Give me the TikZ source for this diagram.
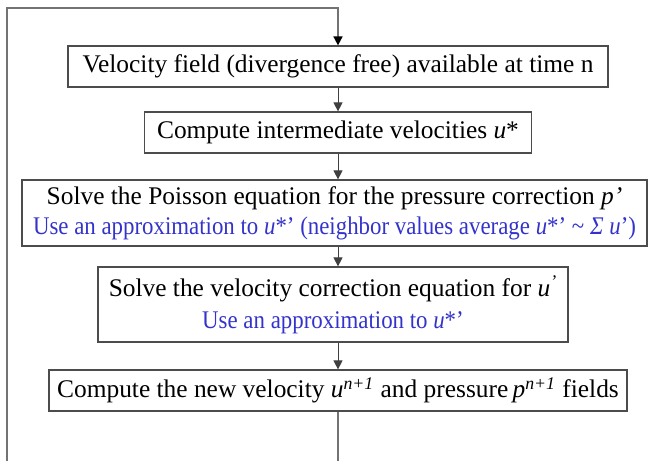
\documentclass[tikz,border=0pt]{standalone}
\usepackage{fontspec}
\setmainfont{Liberation Serif}
\newfontfamily\notefont[FakeStretch=0.9]{Liberation Serif}
\usetikzlibrary{arrows.meta}
\definecolor{noteblue}{RGB}{51,51,204}
\newcommand{\note}[1]{{\notefont\color{noteblue}#1}}

\begin{document}
\begin{tikzpicture}[x=0.5pt, y=-0.5pt,
    stepbox/.style={draw=black!70, line width=0.6pt, align=center, inner sep=0pt,
      font=\fontsize{12.7}{15}\selectfont},
    flow/.style={draw=black!75, line width=0.5pt, -{Triangle[length=4.5pt,width=4.5pt]}},
    loopline/.style={draw=black!55, line width=0.8pt,
      -{Triangle[length=4.5pt,width=4.5pt,color=black]}}
  ]
  \useasboundingbox (0,0) rectangle (648,461);
  \def\mx{338}
  % steps of the algorithm
  \node[stepbox, minimum width=270pt, minimum height=20.5pt] (field) at (\mx,66.5)
    {Velocity field (divergence free) available at time n};
  \node[stepbox, minimum width=193.5pt, minimum height=20.5pt] (inter) at (\mx,132.5)
    {Compute intermediate velocities \textit{u}*};
  \node[stepbox, minimum width=312.5pt, minimum height=33pt] (poisson) at (334.5,213)
    {Solve the Poisson equation for the pressure correction \textit{p’}\\
     \note{Use an approximation to \textit{u}*’ (neighbor values average \textit{u}*’ \textasciitilde{} \textit{Σ u}’)}};
  \node[stepbox, minimum width=235pt, minimum height=37.5pt,
    font=\fontsize{12.7}{16}\selectfont] (corr) at (333,304.5)
    {Solve the velocity correction equation for \textit{u}\textsuperscript{\textit{’}}\\
     \note{Use an approximation to \textit{u}*’}};
  \node[stepbox, minimum width=289pt, minimum height=20.5pt] (update) at (\mx,390.5)
    {Compute the new velocity \textit{u}\textsuperscript{\textit{n+1}} and pressure\,\textit{p}\textsuperscript{\textit{n+1}} fields};
  % connectors
  \draw[flow] (field.south) -- (inter.north);
  \draw[flow] (inter.south) -- (poisson.north -| inter.south);
  \draw[flow] (poisson.south -| inter.south) -- (corr.north -| inter.south);
  \draw[flow] (corr.south -| inter.south) -- (update.north);
  % loop back to the next time step
  \coordinate (loopend) at (\mx,461);
  \coordinate (loopstart) at (7,461);
  \coordinate (looptop) at (\mx,8);
  \draw[loopline, -] (update.south) -- (loopend);
  \draw[loopline] (loopstart) |- (looptop) -- (field.north);
\end{tikzpicture}
\end{document}
